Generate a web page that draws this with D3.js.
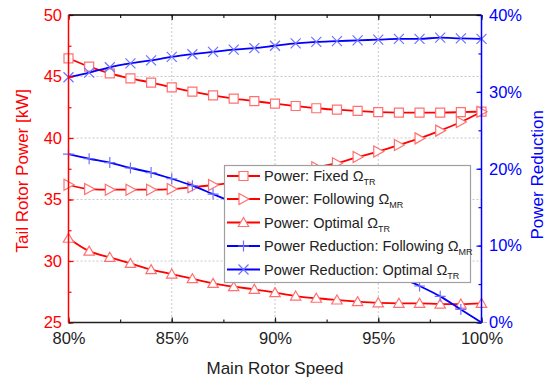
<!DOCTYPE html>
<html><head><meta charset="utf-8">
<script src="https://cdn.jsdelivr.net/npm/d3@7"></script>
<style>body{margin:0;background:#fff}svg{display:block;font-family:"Liberation Sans",Arial,sans-serif}</style>
</head><body><svg id="c" width="551" height="379"></svg>
<script>
const speed = [80,81,82,83,84,85,86,87,88,89,90,91,92,93,94,95,96,97,98,99,100];
const powerFixed = [46.48,45.8,45.26,44.85,44.5,44.12,43.77,43.47,43.2,43.0,42.79,42.6,42.42,42.3,42.2,42.1,42.07,42.07,42.07,42.1,42.15];
const powerFollowing = [36.2,35.85,35.8,35.8,35.8,35.85,35.99,36.18,36.4,36.7,37.0,37.3,37.62,37.95,38.45,38.9,39.43,39.97,40.6,41.3,42.14];
const powerOptimal = [31.85,30.8,30.3,29.8,29.3,28.94,28.56,28.18,27.91,27.7,27.43,27.15,26.97,26.83,26.7,26.6,26.56,26.56,26.5,26.5,26.56];
const redFollowing = [21.9,21.3,20.8,20.1,19.5,18.7,17.8,16.7,15.6,14.5,13.4,12.2,11.0,9.8,8.6,7.3,6.0,4.75,3.4,1.7,0];
const redOptimal = [31.9,32.5,33.2,33.7,34.1,34.55,34.9,35.2,35.5,35.7,36.0,36.3,36.5,36.6,36.7,36.8,36.9,36.9,37.05,36.95,36.9];
const xTicks = [80,85,90,95,100];
const yLeftTicks = [25,30,35,40,45,50];
const yRightTicks = [0,10,20,30,40];
const legendLabels = [["Power: Fixed Ω","TR"],["Power: Following Ω","MR"],["Power: Optimal Ω","TR"],["Power Reduction: Following Ω","MR"],["Power Reduction: Optimal Ω","TR"]];

const L=68.5,R=481.5,T=15,B=322.5;
const RED="#ff0000",BLUE="#0000ff",RED_M="#ff7070",BLUE_M="#7070ff";
const svg=d3.select("#c");
const x=d3.scaleLinear().domain([80,100]).range([L,R]);
const yL=d3.scaleLinear().domain([25,50]).range([B,T]);
const yR=d3.scaleLinear().domain([0,40]).range([B,T]);

// grid
const g=svg.append("g");
[30,35,40,45].forEach(v=>g.append("line").attr("x1",L).attr("x2",R).attr("y1",yL(v)).attr("y2",yL(v)));
[85,90,95].forEach(v=>g.append("line").attr("x1",x(v)).attr("x2",x(v)).attr("y1",T).attr("y2",B));
g.selectAll("line").attr("stroke","#c8c8c8").attr("stroke-width",1).attr("stroke-dasharray","2,2");

const shapes={
 square:"M-4.5,-4.5H4.5V4.5H-4.5Z",
 right:"M-4.5,-5.5L5.5,0L-4.5,5.5Z",
 up:"M0,-5L5.2,4L-5.2,4Z",
 plus:"M-5.5,0H5.5M0,-5.5V5.5",
 cross:"M-5,-5L5,5M-5,5L5,-5"
};
const series=[
 {v:powerFixed,y:yL,c:RED,m:RED_M,s:"square",fill:"#fff"},
 {v:powerFollowing,y:yL,c:RED,m:RED_M,s:"right",fill:"#fff"},
 {v:powerOptimal,y:yL,c:RED,m:RED_M,s:"up",fill:"#fff"},
 {v:redFollowing,y:yR,c:BLUE,m:BLUE_M,s:"plus",fill:"none"},
 {v:redOptimal,y:yR,c:BLUE,m:BLUE_M,s:"cross",fill:"none"}
];
svg.append("clipPath").attr("id","cp").append("rect").attr("x",L-8).attr("y",T).attr("width",R-L+16).attr("height",B-T);
series.forEach(sr=>{
 const gg=svg.append("g").attr("clip-path","url(#cp)");
 const line=d3.line().x((d,i)=>x(speed[i])).y(d=>sr.y(d)).curve(d3.curveMonotoneX);
 gg.append("path").attr("d",line(sr.v)).attr("fill","none").attr("stroke",sr.c).attr("stroke-width",1.8);
 gg.selectAll("path.m").data(sr.v).enter().append("path").attr("class","m")
  .attr("transform",(d,i)=>`translate(${x(speed[i])},${sr.y(d)})`)
  .attr("d",shapes[sr.s]).attr("fill",sr.fill).attr("stroke",sr.m).attr("stroke-width",1.2);
});

// axes
function styleAxis(sel,color){
 sel.select(".domain").remove();
 sel.selectAll(".tick line").attr("stroke",color).attr("stroke-width",1.2);
 sel.selectAll(".tick text").attr("fill",color).style("font-size","16.5px").style("font-family","Liberation Sans, Arial, sans-serif");
}
const minorX=d3.range(80,100.1,2.5), minorL=d3.range(25,50.1,2.5), minorR=d3.range(0,40.1,5);
let a=svg.append("g").attr("transform",`translate(0,${B})`).call(d3.axisBottom(x).tickValues(xTicks).tickFormat(d=>d+"%").tickSize(-5).tickPadding(9.5));
styleAxis(a,"#222");
a=svg.append("g").attr("transform",`translate(0,${B})`).call(d3.axisBottom(x).tickValues(minorX).tickFormat("").tickSize(-3));styleAxis(a,"#222");
a=svg.append("g").attr("transform",`translate(0,${T})`).call(d3.axisTop(x).tickValues(xTicks).tickFormat("").tickSize(-5));styleAxis(a,"#222");
a=svg.append("g").attr("transform",`translate(0,${T})`).call(d3.axisTop(x).tickValues(minorX).tickFormat("").tickSize(-3));styleAxis(a,"#222");
a=svg.append("g").attr("transform",`translate(${L},0)`).call(d3.axisLeft(yL).tickValues(yLeftTicks).tickSize(-5).tickPadding(6.5));styleAxis(a,RED);
a=svg.append("g").attr("transform",`translate(${L},0)`).call(d3.axisLeft(yL).tickValues(minorL).tickFormat("").tickSize(-3));styleAxis(a,RED);
a=svg.append("g").attr("transform",`translate(${R},0)`).call(d3.axisRight(yR).tickValues(yRightTicks).tickFormat(d=>d+"%").tickSize(-5).tickPadding(7.5));styleAxis(a,BLUE);
a=svg.append("g").attr("transform",`translate(${R},0)`).call(d3.axisRight(yR).tickValues(minorR).tickFormat("").tickSize(-3));styleAxis(a,BLUE);
svg.append("line").attr("x1",L).attr("x2",R).attr("y1",T).attr("y2",T).attr("stroke","#000").attr("stroke-width",1.5);
svg.append("line").attr("x1",L).attr("x2",R).attr("y1",B).attr("y2",B).attr("stroke","#222").attr("stroke-width",1.5);
svg.append("line").attr("x1",L).attr("x2",L).attr("y1",T).attr("y2",B).attr("stroke",RED).attr("stroke-width",1.5);
svg.append("line").attr("x1",R).attr("x2",R).attr("y1",T).attr("y2",B).attr("stroke",BLUE).attr("stroke-width",1.5);

// titles
svg.append("text").attr("x",(L+R)/2).attr("y",374).attr("text-anchor","middle").attr("fill","#222").style("font-size","17px").text("Main Rotor Speed");
svg.append("text").attr("transform",`translate(28,${(T+B)/2+2}) rotate(-90)`).attr("text-anchor","middle").attr("fill",RED).style("font-size","17px").text("Tail Rotor Power [kW]");
svg.append("text").attr("transform",`translate(543,${(T+B)/2+6}) rotate(-90)`).attr("text-anchor","middle").attr("fill",BLUE).style("font-size","17px").text("Power Reduction");

// legend
const lg=svg.append("g");
lg.append("rect").attr("x",224.5).attr("y",165.5).attr("width",246).attr("height",117).attr("fill","#fff").attr("stroke","#a0a0a0").attr("stroke-width",1.2);
const rowY=[176,199,222.5,246,269.5];
legendLabels.forEach((lab,i)=>{
 const sr=series[i], yy=rowY[i];
 lg.append("line").attr("x1",227).attr("x2",260).attr("y1",yy).attr("y2",yy).attr("stroke",sr.c).attr("stroke-width",1.8);
 lg.append("path").attr("transform",`translate(243.5,${yy})`).attr("d",shapes[sr.s]).attr("fill",sr.fill).attr("stroke",sr.m).attr("stroke-width",1.2);
 const t=lg.append("text").attr("x",264).attr("y",yy+5).attr("fill","#222").style("font-size","14.5px").text(lab[0]);
 t.append("tspan").attr("dy",4).style("font-size","9px").text(lab[1]);
});
</script></body></html>
